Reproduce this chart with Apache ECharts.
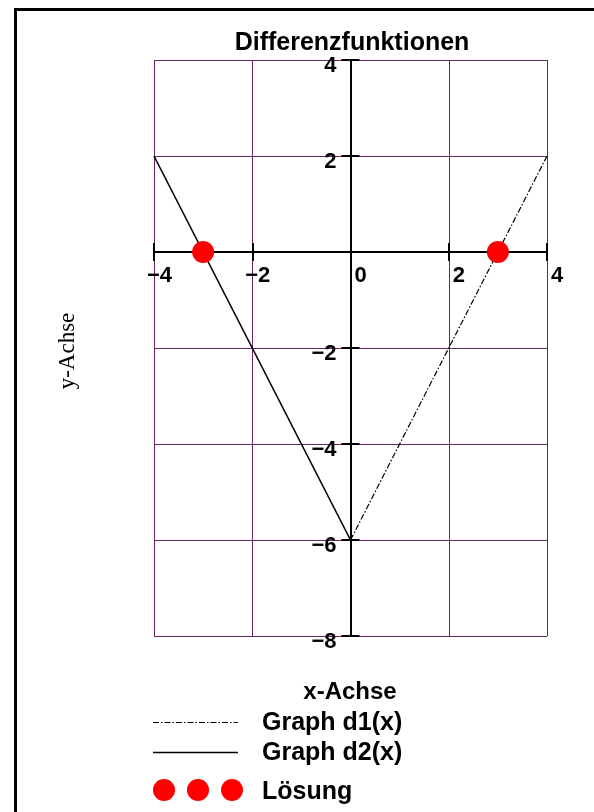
<!DOCTYPE html>
<html>
<head>
<meta charset="utf-8">
<title>Differenzfunktionen</title>
<script src="https://cdn.jsdelivr.net/npm/echarts@6/dist/echarts.min.js"></script>
<style>
  html, body { margin: 0; padding: 0; background: #fff; }
  #chart { width: 594px; height: 812px; }
</style>
</head>
<body>
<div id="chart"></div>
<script>
// Daten
const xRange = [-4, 4]
const yRange = [-8, 4]
const tickStep = 2
const d1Points = [[0, -6], [4, 2]]   // Graph d1(x), strichpunktiert
const d2Points = [[-4, 2], [0, -6]]  // Graph d2(x), durchgezogen
const loesungen = [[-3, 0], [3, 0]]  // Nullstellen
const legendLabels = ['Graph d1(x)', 'Graph d2(x)', 'Lösung']

const purple = '#6a2468'
const labelFont = { color: '#000', fontFamily: 'Arial, "Liberation Sans", sans-serif', fontWeight: 'bold', fontSize: 22 }
const legendFont = 'bold 25px Arial, "Liberation Sans", sans-serif'

// Rasterbereich
const gridLeft = 154
const gridRight = 47
const gridTop = 60
const gridBottom = 176
const plotW = 594 - gridLeft - gridRight
const plotH = 812 - gridTop - gridBottom
// Achsen durch den Nullpunkt schieben
const xAxisOffset = -plotH * (0 - yRange[0]) / (yRange[1] - yRange[0])
const yAxisOffset = -plotW * (0 - xRange[0]) / (xRange[1] - xRange[0])

const myChart = echarts.init(document.getElementById('chart'))

// x-Beschriftung: Minus links vom Strich, Ziffer rechts davon
function xLabel(v) {
  if (v < 0) return '{n|−' + Math.abs(v) + '}'
  return '{p|' + v + '}'
}
function yLabel(v) {
  if (v === 0) return ''
  return '{y|' + (v < 0 ? '−' + Math.abs(v) : String(v)) + '}'
}

const baseX = {
  type: 'value',
  position: 'bottom',
  offset: xAxisOffset,
  min: xRange[0],
  max: xRange[1],
  interval: tickStep
}
const baseY = {
  type: 'value',
  position: 'left',
  offset: yAxisOffset,
  min: yRange[0],
  max: yRange[1],
  interval: tickStep
}
const tickStyle = { color: '#000', width: 2 }

myChart.setOption({
  animation: false,
  backgroundColor: '#fff',
  title: {
    text: 'Differenzfunktionen',
    left: 347,
    top: 26,
    textAlign: 'center',
    textStyle: { ...labelFont, fontSize: 25 }
  },
  grid: {
    left: gridLeft,
    right: gridRight,
    top: gridTop,
    bottom: gridBottom,
    show: false
  },
  xAxis: [
    {
      ...baseX,
      axisLine: { onZero: false, lineStyle: { color: '#000', width: 2 } },
      axisTick: { show: true, inside: false, length: 9, lineStyle: tickStyle },
      axisLabel: {
        show: true,
        margin: 13,
        formatter: xLabel,
        rich: {
          n: { ...labelFont, width: 14, align: 'left' },
          p: { ...labelFont, width: 14, align: 'left', padding: [0, 0, 0, 22] }
        }
      },
      splitLine: { show: true, lineStyle: { color: purple, width: 1 } }
    },
    {
      ...baseX,
      axisLine: { show: false, onZero: false },
      axisTick: { show: true, inside: true, length: 9, lineStyle: tickStyle },
      axisLabel: { show: false },
      splitLine: { show: false }
    }
  ],
  yAxis: [
    {
      ...baseY,
      axisLine: { onZero: false, lineStyle: { color: '#000', width: 2 } },
      axisTick: { show: true, inside: false, length: 9, lineStyle: tickStyle },
      axisLabel: {
        show: true,
        margin: 14,
        formatter: yLabel,
        rich: {
          y: { ...labelFont, padding: [12, 0, 0, 0] }
        }
      },
      splitLine: { show: true, lineStyle: { color: purple, width: 1 } }
    },
    {
      ...baseY,
      axisLine: { show: false, onZero: false },
      axisTick: { show: true, inside: true, length: 9, lineStyle: tickStyle },
      axisLabel: { show: false },
      splitLine: { show: false }
    }
  ],
  series: [
    {
      name: legendLabels[0],
      type: 'line',
      data: d1Points,
      symbol: 'none',
      lineStyle: { color: '#000', width: 1.2, type: [6, 2, 1.5, 2] },
      z: 3
    },
    {
      name: legendLabels[1],
      type: 'line',
      data: d2Points,
      symbol: 'none',
      lineStyle: { color: '#000', width: 1.6, type: 'solid' },
      z: 3
    },
    {
      name: legendLabels[2],
      type: 'scatter',
      data: loesungen,
      symbol: 'circle',
      symbolSize: 22,
      itemStyle: { color: '#ff0000', opacity: 1 },
      z: 5
    }
  ],
  graphic: [
    // Rahmen
    {
      type: 'rect',
      shape: { x: 15.5, y: 9.5, width: 620, height: 840 },
      style: { fill: 'none', stroke: '#000', lineWidth: 3 },
      silent: true
    },
    // y-Achse Beschriftung
    {
      type: 'text',
      x: 68,
      y: 351,
      rotation: Math.PI / 2,
      style: {
        text: 'y-Achse',
        font: '23px "Liberation Serif", "Times New Roman", serif',
        fill: '#000',
        align: 'center',
        verticalAlign: 'middle'
      }
    },
    // Legende
    {
      type: 'text',
      x: 350,
      y: 692,
      style: { text: 'x-Achse', font: 'bold 24px Arial, "Liberation Sans", sans-serif', fill: '#000', align: 'center', verticalAlign: 'middle' }
    },
    {
      type: 'line',
      shape: { x1: 153, y1: 722.5, x2: 238, y2: 722.5 },
      style: { stroke: '#000', lineWidth: 1.2, lineDash: [6, 2, 1.5, 2] }
    },
    {
      type: 'text',
      x: 262,
      y: 723,
      style: { text: legendLabels[0], font: legendFont, fill: '#000', align: 'left', verticalAlign: 'middle' }
    },
    {
      type: 'line',
      shape: { x1: 153, y1: 752.5, x2: 238, y2: 752.5 },
      style: { stroke: '#000', lineWidth: 1.6 }
    },
    {
      type: 'text',
      x: 262,
      y: 753,
      style: { text: legendLabels[1], font: legendFont, fill: '#000', align: 'left', verticalAlign: 'middle' }
    },
    { type: 'circle', shape: { cx: 164, cy: 790, r: 11 }, style: { fill: '#ff0000' } },
    { type: 'circle', shape: { cx: 198, cy: 790, r: 11 }, style: { fill: '#ff0000' } },
    { type: 'circle', shape: { cx: 232, cy: 790, r: 11 }, style: { fill: '#ff0000' } },
    {
      type: 'text',
      x: 262,
      y: 792,
      style: { text: legendLabels[2], font: legendFont, fill: '#000', align: 'left', verticalAlign: 'middle' }
    }
  ]
})
</script>
</body>
</html>
